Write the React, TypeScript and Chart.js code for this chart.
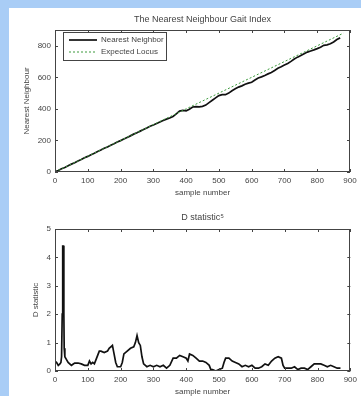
import React, { useEffect, useRef } from 'react';
import { Chart, registerables } from 'chart.js';
Chart.register(...registerables);

const FONT = '"Liberation Sans", Arial, sans-serif';

// ---- Top chart data ----
const nnX = [0,10,20,30,40,50,60,70,80,90,100,110,120,130,140,150,160,170,180,190,200,210,220,230,240,250,260,270,280,290,300,310,320,330,340,350,360,370,380,390,400,410,420,430,440,450,460,470,480,490,500,510,520,530,540,550,560,570,580,590,600,610,620,630,640,650,660,670,680,690,700,710,720,730,740,750,760,770,780,790,800,810,820,830,840,850,860,870];
const nnY = [2,10,20,29,40,50,59,70,79,90,99,110,119,130,139,150,159,170,179,190,199,209,219,229,240,249,259,269,279,290,298,307,317,326,335,342,352,368,386,390,388,398,412,414,413,416,424,440,455,470,484,490,490,500,515,527,538,546,556,563,569,583,596,603,612,622,631,643,657,667,678,688,701,716,728,738,750,760,767,774,782,791,803,806,813,824,840,850];
const locusX = [0, 880];
const locusY = [0, 880];
const topXTicks = [0,100,200,300,400,500,600,700,800,900];
const topYTicks = [0,200,400,600,800];

// ---- Bottom chart data ----
const dX = [0,5,10,15,18,20,22,23,24,26,27,28,30,35,40,50,60,70,80,90,100,105,110,115,120,125,130,135,140,150,160,165,170,175,180,185,190,200,205,210,220,230,240,245,250,255,260,265,270,280,290,300,310,320,330,340,350,360,370,380,390,400,405,410,420,430,440,450,460,470,475,480,490,500,510,515,520,530,540,550,560,570,580,590,600,610,620,630,640,650,660,670,680,690,695,700,710,720,730,740,750,760,770,780,790,800,810,820,830,840,850,860,870];
const dY = [0.35,0.3,0.2,0.25,0.3,0.5,2.0,4.0,4.4,4.4,2.0,0.8,0.5,0.4,0.3,0.2,0.28,0.28,0.25,0.2,0.2,0.35,0.25,0.3,0.25,0.4,0.55,0.7,0.7,0.65,0.7,0.8,0.85,0.9,0.6,0.3,0.15,0.15,0.3,0.6,0.7,0.8,0.85,1.0,1.25,1.0,0.9,0.5,0.25,0.15,0.2,0.15,0.2,0.15,0.2,0.1,0.2,0.45,0.45,0.55,0.5,0.45,0.35,0.6,0.55,0.45,0.35,0.35,0.3,0.2,0.05,0.05,0.0,0.05,0.1,0.3,0.45,0.45,0.35,0.3,0.25,0.15,0.2,0.15,0.2,0.1,0.1,0.15,0.25,0.2,0.35,0.45,0.5,0.45,0.2,0.1,0.1,0.1,0.15,0.05,0.1,0.1,0.05,0.15,0.25,0.25,0.25,0.2,0.15,0.2,0.15,0.1,0.1];
const botXTicks = [0,100,200,300,400,500,600,700,800,900];
const botYTicks = [0,1,2,3,4,5];

const AXIS_COLOR = '#444';
const TEXT_COLOR = '#444';

const boxPlugin = {
  id: 'matlabBox',
  afterDraw(chart: any) {
    const { ctx, chartArea: a, scales } = chart;
    const x = scales.x, y = scales.y;
    ctx.save();
    ctx.strokeStyle = AXIS_COLOR;
    ctx.lineWidth = 1;
    ctx.strokeRect(Math.round(a.left) + 0.5, Math.round(a.top) + 0.5, Math.round(a.width) - 1, Math.round(a.height) - 1);
    const L = 3;
    ctx.beginPath();
    x.ticks.forEach((t: any) => {
      const px = Math.round(x.getPixelForValue(t.value)) + 0.5;
      ctx.moveTo(px, a.bottom); ctx.lineTo(px, a.bottom - L);
      ctx.moveTo(px, a.top); ctx.lineTo(px, a.top + L);
    });
    y.ticks.forEach((t: any) => {
      const py = Math.round(y.getPixelForValue(t.value)) + 0.5;
      ctx.moveTo(a.left, py); ctx.lineTo(a.left + L, py);
      ctx.moveTo(a.right, py); ctx.lineTo(a.right - L, py);
    });
    ctx.stroke();
    ctx.restore();
  },
};

const legendPlugin = {
  id: 'insideLegend',
  afterDatasetsDraw(chart: any, _args: any, opts: any) {
    if (!opts || !opts.show) return;
    const { ctx, chartArea: a } = chart;
    const bx = a.left + 8, by = a.top + 2, bw = 103, bh = 28;
    ctx.save();
    ctx.fillStyle = '#fff';
    ctx.fillRect(bx, by, bw, bh);
    ctx.strokeStyle = AXIS_COLOR;
    ctx.lineWidth = 1;
    ctx.strokeRect(bx + 0.5, by + 0.5, bw, bh);
    ctx.font = `8px ${FONT}`;
    ctx.textBaseline = 'middle';
    chart.data.datasets.forEach((ds: any, i: number) => {
      const cy = by + 8 + i * 12;
      ctx.strokeStyle = ds.borderColor;
      ctx.lineWidth = ds.borderWidth;
      ctx.setLineDash(ds.borderDash || []);
      ctx.beginPath();
      ctx.moveTo(bx + 6, cy); ctx.lineTo(bx + 34, cy);
      ctx.stroke();
      ctx.setLineDash([]);
      ctx.fillStyle = TEXT_COLOR;
      ctx.fillText(ds.label, bx + 38, cy);
    });
    ctx.restore();
  },
};

function makeOptions(cfg: any) {
  return {
    responsive: false,
    animation: false,
    layout: { padding: { left: 0, right: cfg.right, top: 0, bottom: 0 } },
    plugins: {
      legend: { display: false },
      tooltip: { enabled: false },
      title: {
        display: true,
        fullSize: false,
        text: cfg.title,
        color: TEXT_COLOR,
        font: { family: FONT, size: 9, weight: 'normal', lineHeight: 1.2 },
        padding: { top: 14.6, bottom: cfg.titleBottom },
      },
      insideLegend: { show: cfg.legend },
    },
    scales: {
      x: {
        type: 'linear',
        min: 0,
        max: 900,
        afterFit: (s: any) => { s.height = cfg.xHeight; },
        afterBuildTicks: (s: any) => { s.ticks = cfg.xTicks.map((v: number) => ({ value: v })); },
        grid: { display: false, drawTicks: false },
        border: { display: false },
        ticks: { color: TEXT_COLOR, font: { family: FONT, size: 8 }, padding: 4, maxRotation: 0, autoSkip: false },
        title: {
          display: true,
          text: 'sample number',
          color: TEXT_COLOR,
          font: { family: FONT, size: 8, lineHeight: 1 },
          padding: { top: 0, bottom: cfg.xTitleBottom },
        },
      },
      y: {
        type: 'linear',
        min: 0,
        max: cfg.yMax,
        afterFit: (s: any) => { s.width = 55; },
        afterBuildTicks: (s: any) => { s.ticks = cfg.yTicks.map((v: number) => ({ value: v })); },
        grid: { display: false, drawTicks: false },
        border: { display: false },
        ticks: { color: TEXT_COLOR, font: { family: FONT, size: 8 }, padding: 4, autoSkip: false },
        title: {
          display: true,
          text: cfg.yTitle,
          color: TEXT_COLOR,
          font: { family: FONT, size: 8, lineHeight: 1 },
          padding: { top: cfg.yTitlePad, bottom: 0 },
        },
      },
    },
  };
}

export default function App() {
  const topRef = useRef<HTMLCanvasElement>(null);
  const botRef = useRef<HTMLCanvasElement>(null);

  useEffect(() => {
    const top = new Chart(topRef.current!, {
      type: 'line',
      data: {
        datasets: [
          {
            label: 'Nearest Neighbor',
            data: nnX.map((x, i) => ({ x, y: nnY[i] })),
            borderColor: '#111',
            borderWidth: 1.7,
            pointRadius: 0,
            tension: 0,
            order: 1,
          },
          {
            label: 'Expected Locus',
            data: locusX.map((x, i) => ({ x, y: locusY[i] })),
            borderColor: '#3c9a3c',
            borderWidth: 1,
            borderDash: [2, 2],
            pointRadius: 0,
            tension: 0,
            order: 0,
          },
        ],
      },
      options: makeOptions({
        title: 'The Nearest Neighbour Gait Index',
        right: 11, titleBottom: 4.6, xHeight: 26, xTitleBottom: 1,
        xTicks: topXTicks, yTicks: topYTicks, yMax: 900,
        yTitle: 'Nearest Neighbour', yTitlePad: 23, legend: true,
      }) as any,
      plugins: [boxPlugin, legendPlugin],
    });
    const bot = new Chart(botRef.current!, {
      type: 'line',
      data: {
        datasets: [
          {
            label: 'D statistic',
            data: dX.map((x, i) => ({ x, y: dY[i] })),
            borderColor: '#111',
            borderWidth: 1.7,
            pointRadius: 0,
            tension: 0,
          },
        ],
      },
      options: makeOptions({
        title: 'D statistic\u2075',
        right: 9, titleBottom: 5.6, xHeight: 25, xTitleBottom: 0,
        xTicks: botXTicks, yTicks: botYTicks, yMax: 5,
        yTitle: 'D statistic', yTitlePad: 32, legend: false,
      }) as any,
      plugins: [boxPlugin, legendPlugin],
    });
    return () => { top.destroy(); bot.destroy(); };
  }, []);

  return (
    <div style={{ position: 'fixed', left: 0, top: 0, width: 361, height: 396, background: '#a9cdf6', overflow: 'hidden' }}>
      <div style={{ position: 'absolute', left: 9, top: 8, right: 0, bottom: 0, background: '#fff' }} />
      <canvas ref={topRef} width={361} height={198} style={{ position: 'absolute', left: 0, top: 0, width: 361, height: 198 }} />
      <canvas ref={botRef} width={361} height={198} style={{ position: 'absolute', left: 0, top: 198, width: 361, height: 198 }} />
    </div>
  );
}
